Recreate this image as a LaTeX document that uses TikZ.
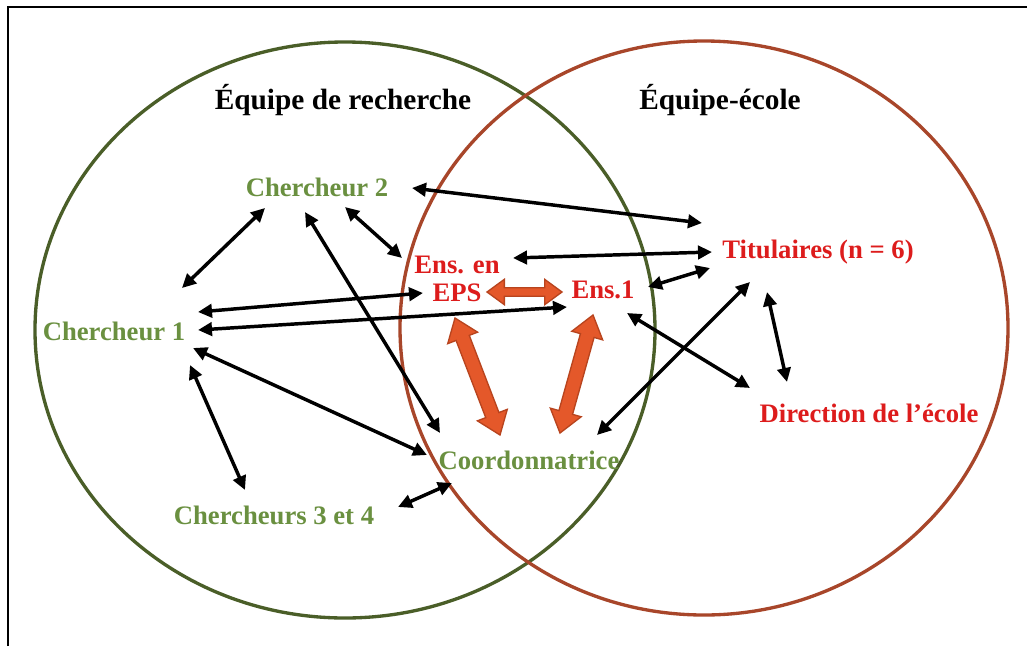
\documentclass[tikz,border=0pt]{standalone}
\usepackage{fontspec}
\setmainfont{Liberation Serif}
\usetikzlibrary{arrows.meta,calc}
\definecolor{lgreen}{HTML}{6A9040}
\definecolor{gcirc}{HTML}{4A5E28}
\definecolor{ocirc}{HTML}{A8462A}
\definecolor{rtext}{HTML}{DD1C1C}
\definecolor{afill}{HTML}{E4582A}
\definecolor{aline}{HTML}{B8441E}
\newcommand\fatarrow[5]{%
 \filldraw[bigarr] (#1)
  -- ($(#1)!#3!(#2)!#4!90:(#2)$)
  -- ($(#1)!#3!(#2)!#5!90:(#2)$)
  -- ($(#2)!#3!(#1)!#5!-90:(#1)$)
  -- ($(#2)!#3!(#1)!#4!-90:(#1)$)
  -- (#2)
  -- ($(#2)!#3!(#1)!#4!90:(#1)$)
  -- ($(#2)!#3!(#1)!#5!90:(#1)$)
  -- ($(#1)!#3!(#2)!#5!-90:(#2)$)
  -- ($(#1)!#3!(#2)!#4!-90:(#2)$)
  -- cycle;}
\begin{document}
\begin{tikzpicture}[x=0.75pt,y=-0.75pt,
  title/.style={font=\fontsize{22}{24}\selectfont\bfseries, text=black, inner sep=0pt},
  gtxt/.style={font=\fontsize{20}{21}\selectfont\bfseries, text=lgreen, inner sep=0pt},
  rtxt/.style={font=\fontsize{20}{21}\selectfont\bfseries, text=rtext, inner sep=0pt},
  conn/.style={line width=2.6pt, black, <->, >={Triangle[length=10.5pt,width=10pt]}},
  bigarr/.style={fill=afill, draw=aline, line width=1pt, line join=miter},
  gring/.style={draw=gcirc, line width=2.5pt},
  oring/.style={draw=ocirc, line width=2.5pt},
  frame/.style={draw=black, line width=1.8pt}]
\useasboundingbox (0,0) rectangle (1027,646);
\fill[white] (0,0) rectangle (1027,646);
\draw[frame] (8,646) -- (8,7) -- (1027,7);
% sets
\draw[gring] (345,330) ellipse [x radius=232.5pt, y radius=216pt];
\draw[oring] (704,328) ellipse [x radius=228pt, y radius=215.25pt];
% titles
\node[title] (teq) at (343,100) {Équipe de recherche};
\node[title] (tec) at (720,100) {Équipe-école};
% members
\node[gtxt] (c2) at (317,187) {Chercheur 2};
\node[gtxt] (c1) at (114,331) {Chercheur 1};
\node[gtxt] (c34) at (274,515) {Chercheurs 3 et 4};
\node[gtxt] (coord) at (529,460) {Coordonnatrice};
\node[rtxt, align=center] (eps) at (457,279) {Ens. en\\EPS};
\node[rtxt] (e1) at (603,290) {Ens.1};
\node[rtxt] (tit) at (818,252) {Titulaires (n = 6)};
\node[rtxt] (dir) at (869,413) {Direction de l’école};
% connector ends
\coordinate (c2a) at (265,208); \coordinate (c1a) at (182,288);
\coordinate (c2b) at (345,207); \coordinate (epsa) at (402,258);
\coordinate (c2c) at (305,212); \coordinate (coa) at (440,433);
\coordinate (c2d) at (412,188); \coordinate (tita) at (702,223);
\coordinate (epsb) at (513,258); \coordinate (titb) at (712,252);
\coordinate (titc) at (710,268); \coordinate (e1a) at (648,287);
\coordinate (c1b) at (198,312); \coordinate (epsc) at (423,293);
\coordinate (c1c) at (198,330); \coordinate (e1b) at (567,307);
\coordinate (c1d) at (193,348); \coordinate (cob) at (427,455);
\coordinate (c1e) at (190,365); \coordinate (c34a) at (245,490);
\coordinate (c34b) at (398,507); \coordinate (coc) at (452,483);
\coordinate (e1c) at (627,313); \coordinate (dira) at (750,388);
\coordinate (titd) at (750,282); \coordinate (cod) at (597,435);
\coordinate (tite) at (767,292); \coordinate (dirb) at (787,382);
% black connectors
\draw[conn] (c2a) -- (c1a);
\draw[conn] (c2b) -- (epsa);
\draw[conn] (c2c) -- (coa);
\draw[conn] (c2d) -- (tita);
\draw[conn] (epsb) -- (titb);
\draw[conn] (titc) -- (e1a);
\draw[conn] (c1b) -- (epsc);
\draw[conn] (c1c) -- (e1b);
\draw[conn] (c1d) -- (cob);
\draw[conn] (c1e) -- (c34a);
\draw[conn] (c34b) -- (coc);
\draw[conn] (e1c) -- (dira);
\draw[conn] (titd) -- (cod);
\draw[conn] (tite) -- (dirb);
% big orange arrows
\coordinate (epsd) at (487,292); \coordinate (e1d) at (562,292);
\coordinate (epse) at (455,318); \coordinate (coe) at (500,435);
\coordinate (e1e) at (593,315); \coordinate (cof) at (560,433);
\fatarrow{epsd}{e1d}{13pt}{9.5pt}{3.2pt}
\fatarrow{epse}{coe}{16pt}{12pt}{5.3pt}
\fatarrow{e1e}{cof}{16pt}{12pt}{5.3pt}
\end{tikzpicture}
\end{document}
